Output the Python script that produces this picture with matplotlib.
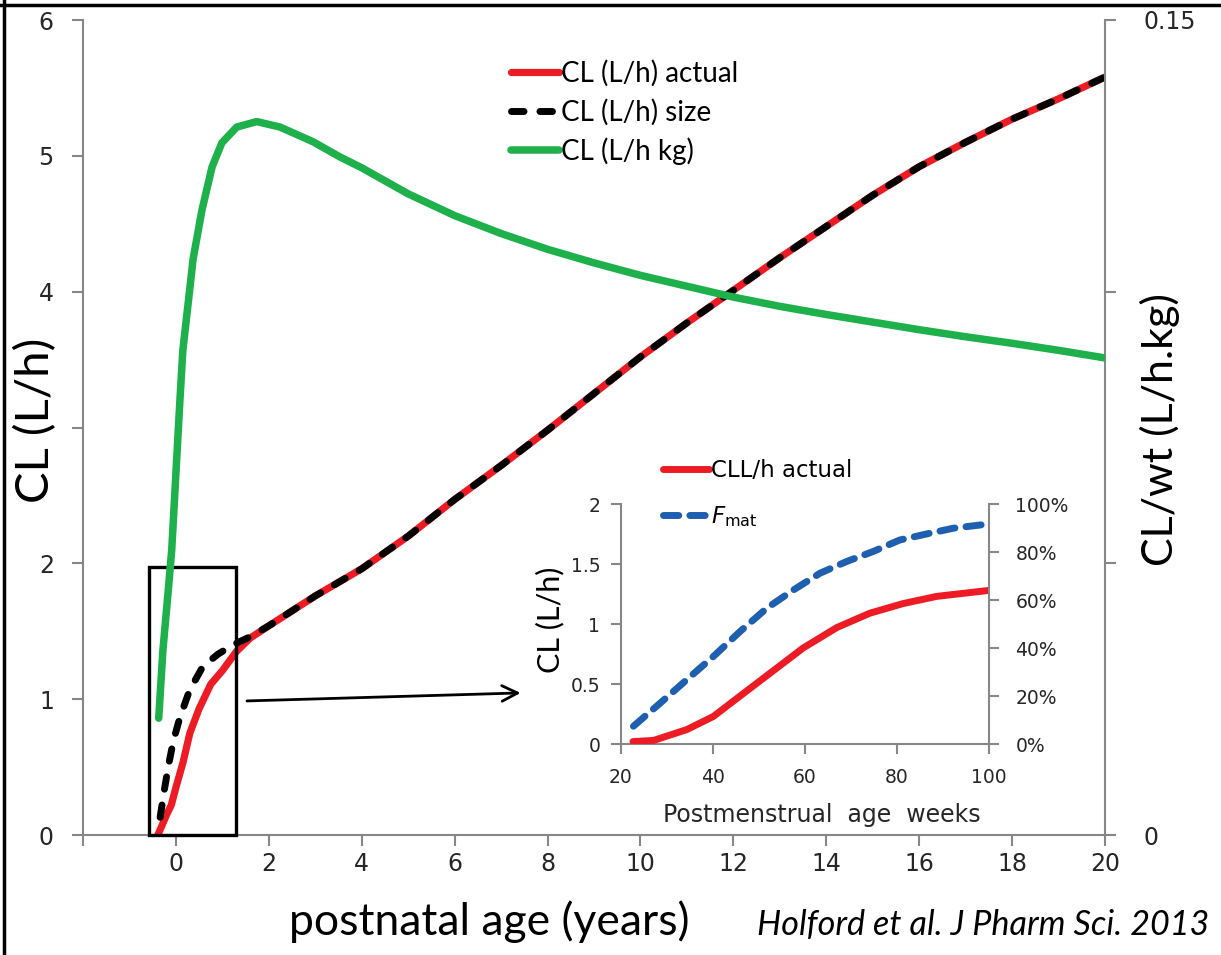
import matplotlib
matplotlib.use('Agg')
import matplotlib.pyplot as plt
from matplotlib.patches import Rectangle
from matplotlib.lines import Line2D

# ---------------- data ----------------
# Main chart: postnatal age (years) vs clearance
age_actual = [-0.39, -0.30, -0.20, -0.10, 0.0, 0.15, 0.30, 0.50, 0.75, 1.0, 1.3, 1.6,
              2, 3, 4, 5, 6, 7, 8, 9, 10, 11, 12, 13, 14, 15, 16, 17, 18, 19, 20]
cl_actual = [0.0, 0.07, 0.15, 0.22, 0.35, 0.53, 0.75, 0.93, 1.11, 1.21, 1.35, 1.45,
             1.54, 1.76, 1.96, 2.20, 2.47, 2.72, 2.98, 3.25, 3.52, 3.77, 4.01, 4.25,
             4.48, 4.71, 4.92, 5.10, 5.27, 5.42, 5.58]

age_size = [-0.34, -0.25, -0.15, -0.05, 0.09, 0.30, 0.58, 0.9, 1.23, 1.6,
            2, 3, 4, 5, 6, 7, 8, 9, 10, 11, 12, 13, 14, 15, 16, 17, 18, 19, 20]
cl_size = [0.13, 0.33, 0.53, 0.70, 0.87, 1.07, 1.24, 1.33, 1.40, 1.46,
           1.54, 1.76, 1.96, 2.20, 2.47, 2.72, 2.98, 3.25, 3.52, 3.77, 4.01, 4.25,
           4.48, 4.71, 4.92, 5.10, 5.27, 5.42, 5.58]

age_wt = [-0.37, -0.28, -0.17, -0.09, 0.086, 0.15, 0.23, 0.37, 0.56, 0.78, 0.99, 1.31,
          1.74, 2.24, 2.95, 3.53, 4, 5, 6, 7, 8, 9, 10, 11, 12, 13, 14, 15, 16, 17,
          18, 19, 20]
cl_wt = [0.0215, 0.034, 0.0445, 0.0525, 0.080, 0.0893, 0.0953, 0.106, 0.115, 0.123,
         0.1274, 0.1303, 0.1313, 0.1303, 0.1276, 0.1248, 0.1228, 0.1180, 0.1140, 0.1107,
         0.1078, 0.1053, 0.1030, 0.1010, 0.0990, 0.0973, 0.0958, 0.0944, 0.0930, 0.0917,
         0.0905, 0.0892, 0.0878]

# Inset: postmenstrual age (weeks)
pma_cl = [22.6, 27.1, 34.3, 40.1, 45.2, 52.4, 59.6, 66.9, 74.1, 81.3, 88.6, 100]
cl_inset = [0.02, 0.03, 0.12, 0.23, 0.38, 0.59, 0.80, 0.97, 1.09, 1.17, 1.23, 1.28]
pma_fmat = [22.7, 28.5, 34.3, 40.1, 45.9, 51.7, 57.5, 63.3, 69.0, 74.8, 80.6, 87.1, 92.2, 100]
fmat_pct = [7.4, 17.0, 26.8, 36.5, 46.9, 56.6, 64.2, 71.2, 76.0, 80.2, 85.0, 87.8, 89.9, 91.7]

x_ticks = [-2, 0, 2, 4, 6, 8, 10, 12, 14, 16, 18, 20]
x_ticklabels = ['', '0', '2', '4', '6', '8', '10', '12', '14', '16', '18', '20']
y_ticks = [0, 1, 2, 3, 4, 5, 6]
y_ticklabels = ['0', '1', '2', '', '4', '5', '6']
y2_ticks = [0, 0.05, 0.10, 0.15]
y2_ticklabels = ['0', '', '', '0.15']
in_x_ticks = [20, 40, 60, 80, 100]
in_y_ticks = [0, 0.5, 1, 1.5, 2]
in_y_ticklabels = ['0', '0.5', '1', '1.5', '2']
in_y2_ticks = [0, 20, 40, 60, 80, 100]
in_y2_ticklabels = ['0%', '20%', '40%', '60%', '80%', '100%']

# ---------------- styling ----------------
RED = '#ED1C24'
GREEN = '#1DB04B'
BLUE = '#1F5FB0'
SPINE = '#878787'
TXT = '#262626'
W, H = 1221, 955

fig = plt.figure(figsize=(W / 100, H / 100), dpi=100)
fig.patch.set_facecolor('white')


def fx(px):
    return px / W


def fy(py):
    return 1 - py / H


# main axes
ax = fig.add_axes([fx(83), fy(835), fx(1105) - fx(83), fy(20) - fy(835)])
ax.set_xlim(-2, 20)
ax.set_ylim(0, 6)
ax.set_facecolor('none')
ax2 = ax.twinx()
ax2.set_ylim(0, 0.15)

for s in ['top', 'right']:
    ax.spines[s].set_visible(False)
for s in ['left', 'bottom']:
    ax.spines[s].set_color(SPINE)
    ax.spines[s].set_linewidth(1.5)
for s in ['top', 'left', 'bottom']:
    ax2.spines[s].set_visible(False)
ax2.spines['right'].set_color(SPINE)
ax2.spines['right'].set_linewidth(1.5)

ax.set_xticks(x_ticks)
ax.set_xticklabels(x_ticklabels)
ax.set_yticks(y_ticks)
ax.set_yticklabels(y_ticklabels)
ax2.set_yticks(y2_ticks)
ax2.set_yticklabels(y2_ticklabels)
ax.tick_params(axis='x', direction='out', length=8, width=1.5, color=SPINE,
               labelsize=17, labelcolor=TXT, pad=4)
ax.tick_params(axis='y', direction='out', length=8, width=1.5, color=SPINE,
               labelsize=17, labelcolor=TXT, pad=13)
ax2.tick_params(axis='y', direction='out', length=8, width=1.5, color=SPINE,
                labelsize=17, labelcolor=TXT, pad=20)

# curves
l_actual, = ax.plot(age_actual, cl_actual, color=RED, lw=5.2,
                    solid_capstyle='round', solid_joinstyle='round', zorder=3)
l_size, = ax.plot(age_size, cl_size, color='black', lw=5.0, dashes=(1.8, 2.3),
                  dash_capstyle='round', dash_joinstyle='round', zorder=4)
l_wt, = ax2.plot(age_wt, cl_wt, color=GREEN, lw=5.4,
                 solid_capstyle='round', solid_joinstyle='round', zorder=3)

# box around early region
ax.add_patch(Rectangle((-0.58, 0.0), 1.87, 1.97, fill=False, edgecolor='black',
                       lw=2.4, zorder=5, clip_on=False))

# arrow to inset
ax.annotate('', xy=(7.42, 1.046), xytext=(1.53, 0.987),
            arrowprops=dict(arrowstyle='->', color='black', lw=2.0,
                            mutation_scale=28, shrinkA=0, shrinkB=0), zorder=6)

# main legend
leg = fig.legend([l_actual, l_size, l_wt],
                 ['CL (L/h) actual', 'CL (L/h) size', 'CL (L/h kg)'],
                 loc='upper left', bbox_to_anchor=(fx(511), fy(60)),
                 bbox_transform=fig.transFigure, frameon=False,
                 prop={'family': 'Lato', 'size': 20}, handlelength=1.73,
                 handletextpad=0.07, labelspacing=0.42, borderpad=0, borderaxespad=0)

# axis labels & caption
fig.text(fx(36), fy(420), 'CL (L/h)', rotation=90, ha='center', va='center',
         family='Lato', fontsize=34, color='black')
fig.text(fx(1160), fy(430), 'CL/wt (L/h.kg)', rotation=90, ha='center', va='center',
         family='Lato', fontsize=31, color='black')
fig.text(fx(489), fy(922), 'postnatal age (years)', ha='center', va='center',
         family='Lato', fontsize=32, color='black')
fig.text(fx(983), fy(925), 'Holford et al. J Pharm Sci. 2013', ha='center', va='center',
         family='Lato', style='italic', fontsize=24.6, color='black')

# ---------------- inset ----------------
axi = fig.add_axes([fx(621), fy(744), fx(989) - fx(621), fy(504) - fy(744)])
axi.set_facecolor('none')
axi.set_xlim(20, 100)
axi.set_ylim(0, 2)
axi2 = axi.twinx()
axi2.set_ylim(0, 100)
axi.spines['top'].set_visible(False)
axi.spines['right'].set_visible(False)
for s in ['left', 'bottom']:
    axi.spines[s].set_color(SPINE)
    axi.spines[s].set_linewidth(1.5)
for s in ['top', 'left', 'bottom']:
    axi2.spines[s].set_visible(False)
axi2.spines['right'].set_color(SPINE)
axi2.spines['right'].set_linewidth(1.5)

axi.set_xticks(in_x_ticks)
axi.set_yticks(in_y_ticks)
axi.set_yticklabels(in_y_ticklabels)
axi2.set_yticks(in_y2_ticks)
axi2.set_yticklabels(in_y2_ticklabels)
axi.tick_params(axis='x', direction='out', length=7, width=1.5, color=SPINE,
                labelsize=13.5, labelcolor=TXT, pad=10)
axi.tick_params(axis='y', direction='out', length=7, width=1.5, color=SPINE,
                labelsize=13.5, labelcolor=TXT, pad=8)
axi2.tick_params(axis='y', direction='out', length=7, width=1.5, color=SPINE,
                 labelsize=13.5, labelcolor=TXT, pad=12)

li_red, = axi.plot(pma_cl, cl_inset, color=RED, lw=5.0,
                   solid_capstyle='round', solid_joinstyle='round', zorder=3)
li_blue, = axi2.plot(pma_fmat, fmat_pct, color=BLUE, lw=5.0, dashes=(2.2, 1.6),
                     dash_capstyle='round', zorder=3)

axi.legend([li_red, li_blue], ['CLL/h actual', r'$F_{\mathrm{mat}}$'],
           loc='upper left', bbox_to_anchor=(0.114, 1.186), frameon=False,
           prop={'size': 16.5}, handlelength=2.0, handletextpad=0.08,
           labelspacing=0.95, borderpad=0, borderaxespad=0)

fig.text(fx(550), fy(620), 'CL (L/h)', rotation=90, ha='center', va='center',
         family='Lato', fontsize=22, color='black')
fig.text(fx(822), fy(815), 'Postmenstrual  age  weeks', ha='center', va='center',
         fontsize=17, color=TXT)

# partial frame lines (top and left) of the slide crop
fig.add_artist(Line2D([0, 1], [fy(5), fy(5)], transform=fig.transFigure,
                      color='black', lw=2.5))
fig.add_artist(Line2D([fx(4), fx(4)], [0, 1], transform=fig.transFigure,
                      color='black', lw=2.5))

fig.savefig('out.png', dpi=100)
